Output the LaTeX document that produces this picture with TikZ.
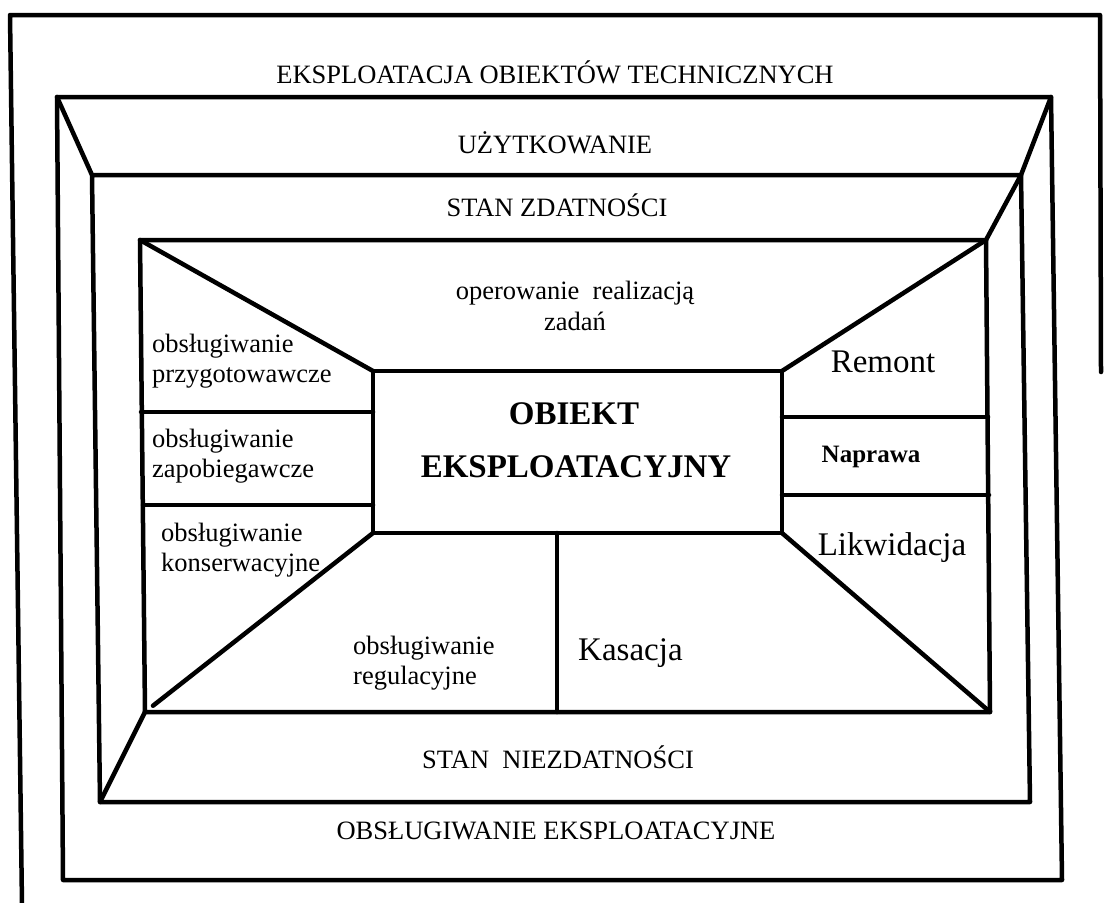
\documentclass[tikz,border=0pt]{standalone}
\usepackage{fontspec}
\setmainfont{Liberation Serif}
\usetikzlibrary{calc}
\begin{document}
\begin{tikzpicture}[x=1pt,y=-1pt,
  wall/.style={line width=4.5pt, line join=round, line cap=round},
  band/.style={font=\fontsize{26.5}{31}\selectfont, inner sep=0pt},
  lbl/.style={font=\fontsize{26.5}{30}\selectfont, align=left, inner sep=0pt, anchor=west},
  big/.style={font=\fontsize{33}{38}\selectfont, inner sep=0pt},
  core/.style={font=\fontsize{33}{38}\selectfont\bfseries, inner sep=0pt}]
\useasboundingbox (0,0) rectangle (1105,902);

% outer border (cut at the right and bottom)
\coordinate (a1) at (1101,372);
\coordinate (a2) at (1100,15);
\coordinate (a3) at (10,15);
\coordinate (a4) at (22,905);
% exploitation frame
\coordinate (b1) at (57,97);   \coordinate (b2) at (1051,97);
\coordinate (b3) at (1062,880); \coordinate (b4) at (63,880);
% usability frame
\coordinate (c1) at (92,175);  \coordinate (c2) at (1021,175);
\coordinate (c3) at (1030,802); \coordinate (c4) at (100,802);
% inner frame
\coordinate (d1) at (140,240); \coordinate (d2) at (986,240);
\coordinate (d3) at (990,712); \coordinate (d4) at (145,712);
% central object
\coordinate (e1) at (373,371); \coordinate (e2) at (782,371);
\coordinate (e3) at (782,533); \coordinate (e4) at (373,533);
% divider ends
\coordinate (l1a) at (141,412); \coordinate (l1b) at (373,412);
\coordinate (l2a) at (143,505); \coordinate (l2b) at (373,505);
\coordinate (r1a) at (782,417); \coordinate (r1b) at (988,417);
\coordinate (r2a) at (782,495); \coordinate (r2b) at (989,495);
\coordinate (k1) at (557,533);  \coordinate (k2) at (557,712);

\draw[wall] (a1) -- (a2) -- (a3) -- (a4);
\draw[wall] (b1) -- (b2) -- (b3) -- (b4) -- cycle;
\draw[wall] (c1) -- (c2) -- (c3) -- (c4) -- cycle;
\draw[wall] (d1) -- (d2) -- (d3) -- (d4) -- cycle;
\draw[wall] (e1) -- (e2) -- (e3) -- (e4) -- cycle;

% perspective edges
\draw[wall] (b1) -- (c1);
\draw[wall] (b2) -- (c2) -- (d2) -- (e2);
\draw[wall] (d1) -- (e1);
\draw[wall] (d4) -- (c4);
\draw[wall] (e4) -- ($(e4)!0.965!(d4)$);
\draw[wall] (e3) -- (d3);

% dividers
\draw[wall] (l1a) -- (l1b);
\draw[wall] (l2a) -- (l2b);
\draw[wall] (r1a) -- (r1b);
\draw[wall] (r2a) -- (r2b);
\draw[wall] (k1) -- (k2);

% labels
\node[band] (title) at (555,72) {EKSPLOATACJA OBIEKTÓW TECHNICZNYCH};
\node[band] (uzyt) at (555,143) {UŻYTKOWANIE};
\node[band] (zdat) at (557,205) {STAN ZDATNOŚCI};
\node[band, align=center] (oper) at (575,306) {operowanie\ \ realizacją\\zadań};
\node[lbl] (prep) at (152,361) {obsługiwanie\\przygotowawcze};
\node[lbl] (zapob) at (152,456) {obsługiwanie\\zapobiegawcze};
\node[lbl] (kons) at (161,550) {obsługiwanie\\konserwacyjne};
\node[lbl] (regul) at (353,663) {obsługiwanie\\regulacyjne};
\node[big, anchor=west] (kas) at (578,653) {Kasacja};
\node[big] (rem) at (883,362) {Remont};
\node[font=\fontsize{25}{28}\selectfont\bfseries, inner sep=0pt] (napr) at (871,457) {Naprawa};
\node[big] (likw) at (892,548) {Likwidacja};
\node[core] (ob1) at (574,414) {OBIEKT};
\node[core] (ob2) at (576,467) {EKSPLOATACYJNY};
\node[band] (niezd) at (558,757) {STAN\ \ NIEZDATNOŚCI};
\node[band] (obsl) at (556,831) {OBSŁUGIWANIE EKSPLOATACYJNE};
\end{tikzpicture}
\end{document}
